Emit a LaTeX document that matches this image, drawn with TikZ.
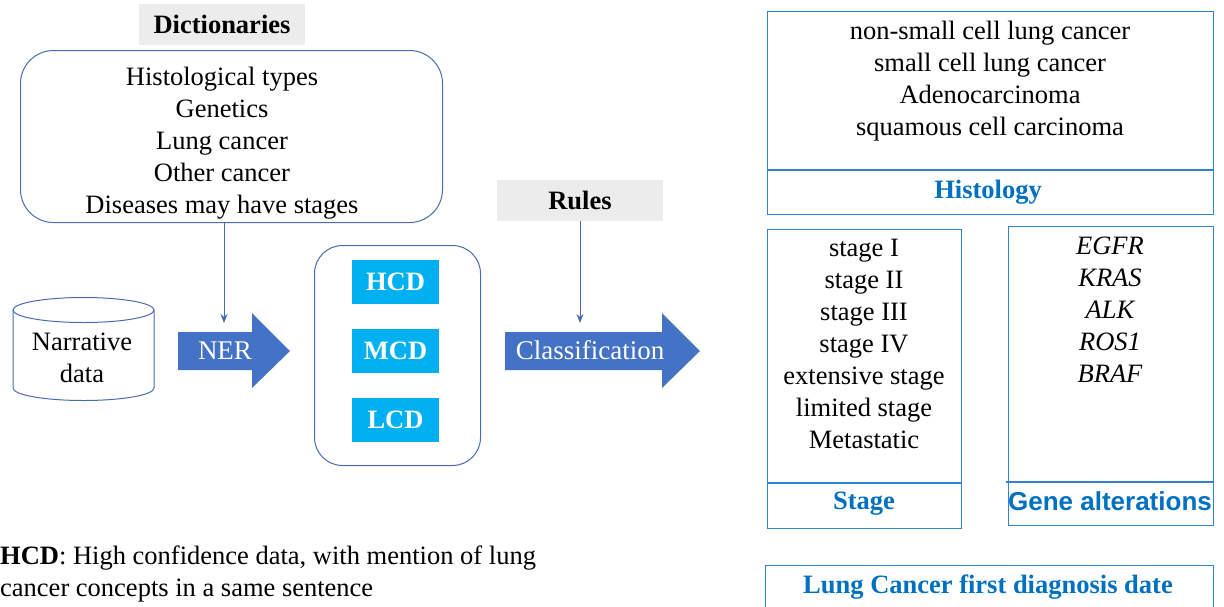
\documentclass[tikz,border=0pt]{standalone}
\usepackage{fontspec}
\setmainfont{Liberation Serif}
\newfontfamily\arialfont{Liberation Sans}
\usetikzlibrary{arrows.meta}
\definecolor{slate}{RGB}{72,108,180}
\definecolor{rbox}{RGB}{50,130,205}
\definecolor{hblue}{RGB}{0,112,192}
\definecolor{cyanfill}{RGB}{0,176,240}
\definecolor{lgray}{RGB}{236,236,236}
\definecolor{arrowfill}{RGB}{68,114,196}
\tikzset{
  txt/.style={font=\fontsize{26.5}{32}\selectfont, align=center, inner sep=0pt},
  graylbl/.style={fill=lgray, minimum width=166pt, minimum height=41pt, inner sep=0pt, font=\fontsize{26.5}{30}\selectfont\bfseries},
  leftbox/.style={draw=slate, line width=1pt, inner sep=0pt, anchor=north west},
  cbox/.style={fill=cyanfill, minimum width=87pt, minimum height=44pt, inner sep=0pt, text=white, font=\fontsize{26.5}{30}\selectfont\bfseries},
  rightbox/.style={draw=rbox, line width=1.2pt, inner sep=0pt, anchor=north west},
  header/.style={text=hblue, font=\fontsize{26.5}{30}\selectfont\bfseries, inner sep=0pt},
  thinarrow/.style={draw=slate, line width=0.9pt, -{Stealth[length=9pt,width=7pt]}},
  blockarrow/.style={fill=arrowfill},
  arrowtxt/.style={text=white, font=\fontsize{27}{30}\selectfont, inner sep=0pt},
}
\begin{document}
\begin{tikzpicture}[x=1pt,y=-1pt]
\useasboundingbox (0,0) rectangle (1224,606);
% Dictionaries
\node[graylbl] (dictlbl) at (222,24) {Dictionaries};
\node[leftbox, rounded corners=33pt, minimum width=422pt, minimum height=172pt] (dict) at (20,50) {};
\node[txt] (dicttxt) at (222,143) {Histological types\\Genetics\\Lung cancer\\Other cancer\\Diseases may have stages};
% Narrative data cylinder
\draw[draw=slate, line width=1pt] (13,310) -- (13,388) arc[start angle=180, end angle=0, x radius=70.5, y radius=12.5] -- (154,310);
\draw[draw=slate, line width=1pt] (83.5,310) ellipse[x radius=70.5, y radius=12.5];
\node[txt] (narr) at (82,358) {Narrative\\data};
% NER arrow
\fill[blockarrow] (178,332) -- (252,332) -- (252,313) -- (290,351) -- (252,388) -- (252,370) -- (178,370) -- cycle;
\node[arrowtxt] (ner) at (225,351) {NER};
\coordinate (nertop) at (224,323);
\draw[thinarrow] (dict.south -| nertop) -- (nertop);
% Middle box
\node[leftbox, rounded corners=28pt, minimum width=166pt, minimum height=220pt] (mid) at (314,245) {};
\node[cbox] (hcd) at (395.5,281.5) {HCD};
\node[cbox] (mcd) at (395.5,350.5) {MCD};
\node[cbox] (lcd) at (395.5,419.5) {LCD};
% Rules
\node[graylbl] (rules) at (580,200) {Rules};
\coordinate (clstop) at (580,323);
\draw[thinarrow] (rules.south) -- (clstop);
% Classification arrow
\fill[blockarrow] (505,332) -- (662,332) -- (662,313) -- (700,351) -- (662,388) -- (662,370) -- (505,370) -- cycle;
\node[arrowtxt] (cls) at (590,350) {Classification};
% Histology box
\node[rightbox, minimum width=446pt, minimum height=203pt] (hist) at (767,11) {};
\draw[draw=rbox, line width=1.2pt] (767,170) -- (1213,170);
\node[txt] (histtxt) at (990,81.5) {non-small cell lung cancer\\small cell lung cancer\\Adenocarcinoma\\squamous cell carcinoma};
\node[header] (histhdr) at (988,192) {Histology};
% Stage box
\node[rightbox, minimum width=194pt, minimum height=299pt] (stage) at (767,229) {};
\draw[draw=rbox, line width=1.2pt] (767,483) -- (961,483);
\node[txt] (stagetxt) at (864,344) {stage I\\stage II\\stage III\\stage IV\\extensive stage\\limited stage\\Metastatic};
\node[header] (stagehdr) at (864,504) {Stage};
% Gene box
\node[rightbox, minimum width=205pt, minimum height=299pt] (gene) at (1008,226) {};
\draw[draw=rbox, line width=1.2pt] (1006,482) -- (1213,482);
\node[txt, font=\fontsize{26.5}{32}\selectfont\itshape] (genetxt) at (1110,310) {EGFR\\KRAS\\ALK\\ROS1\\BRAF};
\node[header, font=\arialfont\fontsize{26}{30}\selectfont\bfseries] (genehdr) at (1110,501) {Gene alterations};
% Lung cancer first diagnosis date
\node[rightbox, minimum width=448pt, minimum height=60pt] (lcfd) at (765,565) {};
\node[header] (lcfdtxt) at (988,587) {Lung Cancer first diagnosis date};
% Footnote
\node[txt, align=left, anchor=west] (note) at (0,574) {\textbf{HCD}: High confidence data, with mention of lung\\cancer concepts in a same sentence};
\end{tikzpicture}
\end{document}
